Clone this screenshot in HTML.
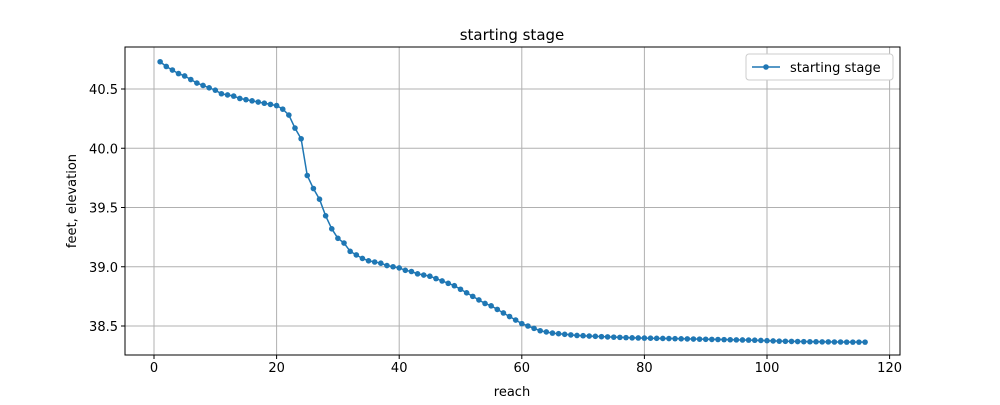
<!DOCTYPE html>
<html><head><meta charset="utf-8"><style>
body{margin:0;background:#fff;font-family:"Liberation Sans","DejaVu Sans",sans-serif}
</style></head><body>
<svg id="c" width="1000" height="400" xmlns="http://www.w3.org/2000/svg" font-family="DejaVu Sans, Liberation Sans, sans-serif"></svg>
<script>
const xValues=[];for(let i=1;i<=116;i++)xValues.push(i);
const stageValues=[40.73,40.69,40.66,40.63,40.61,40.58,40.55,40.53,40.51,40.49,40.46,40.45,40.44,40.42,40.41,40.40,40.39,40.38,40.37,40.36,
40.33,40.28,40.17,40.08,39.77,39.66,39.57,39.43,39.32,39.24,39.20,39.13,39.10,39.07,39.05,39.04,39.03,39.01,39.00,38.99,
38.97,38.96,38.94,38.93,38.92,38.90,38.88,38.86,38.84,38.81,38.78,38.75,38.72,38.69,38.67,38.64,38.61,38.58,38.55,38.52,
38.50,38.48,38.46,38.45,38.44,38.435,38.43,38.425,38.42,38.418,38.415,38.413,38.41,38.408,38.406,38.404,38.402,38.40,38.399,38.398,
38.397,38.396,38.395,38.394,38.393,38.392,38.391,38.39,38.389,38.388,38.387,38.386,38.385,38.384,38.383,38.382,38.381,38.38,38.378,38.376,
38.374,38.372,38.371,38.37,38.369,38.368,38.367,38.367,38.366,38.366,38.365,38.365,38.364,38.364,38.364,38.364];
const xTicks=[0,20,40,60,80,100,120];
const yTicks=[38.5,39.0,39.5,40.0,40.5];
const X=v=>154+v*6.13, Y=v=>89+(40.5-v)*118.5;
const L=125,R=900,T=47,B=355;
const s=document.getElementById('c');const NS='http://www.w3.org/2000/svg';
function el(t,a,txt){const e=document.createElementNS(NS,t);for(const k in a)e.setAttribute(k,a[k]);if(txt!=null)e.textContent=txt;s.appendChild(e);return e;}
xTicks.forEach(t=>{const x=X(t);
let g=el('line',{x1:x,x2:x,y1:T,y2:B,stroke:'#b0b0b0','stroke-width':1});

el('line',{x1:x,x2:x,y1:B,y2:B+4,stroke:'#000'});
let tx=el('text',{x:x,y:B+17,'font-size':13,'text-anchor':'middle'},String(t));
});
yTicks.forEach(t=>{const y=Y(t);
let g=el('line',{x1:L,x2:R,y1:y,y2:y,stroke:'#b0b0b0','stroke-width':1});

el('line',{x1:L-4,x2:L,y1:y,y2:y,stroke:'#000'});
let tx=el('text',{x:L-7,y:y+5,'font-size':13,'text-anchor':'end'},t.toFixed(1));
});
let fr=el('rect',{x:L,y:T,width:R-L,height:B-T,fill:'none',stroke:'#000','stroke-width':1});

let p=el('polyline',{points:xValues.map((x,i)=>X(x)+','+Y(stageValues[i])).join(' '),fill:'none',stroke:'#1f77b4','stroke-width':1.5});

xValues.forEach((x,i)=>{let c=el('circle',{cx:X(x),cy:Y(stageValues[i]),r:2.8,fill:'#1f77b4'});
});
let ti=el('text',{x:512,y:40,'font-size':15,'text-anchor':'middle'},'starting stage');

let xl=el('text',{x:512,y:396,'font-size':13,'text-anchor':'middle'},'reach');

let yl=el('text',{x:76,y:201,'font-size':13,'text-anchor':'middle',transform:'rotate(-90 76 201)'},'feet, elevation');

let lg=el('rect',{x:746,y:54,width:147,height:26,rx:3,fill:'#fff',stroke:'#ccc'});

el('line',{x1:752,x2:780,y1:67,y2:67,stroke:'#1f77b4','stroke-width':1.5});
el('circle',{cx:766,cy:67,r:2.8,fill:'#1f77b4'});
let lt=el('text',{x:790,y:72,'font-size':13},'starting stage');

</script>
</body></html>
